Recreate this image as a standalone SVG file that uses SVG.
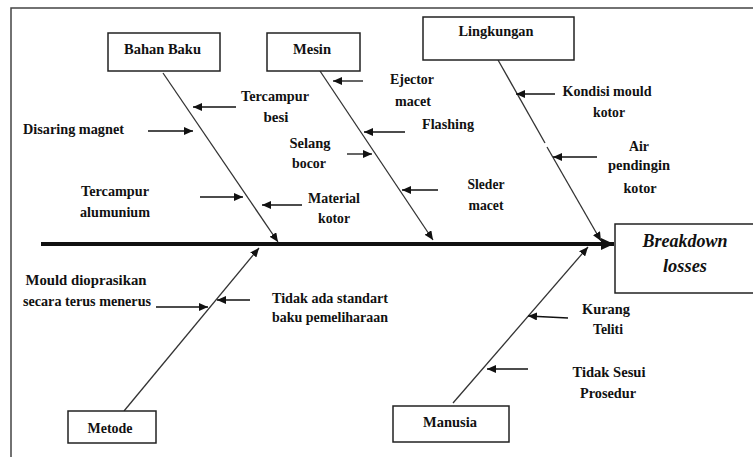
<svg xmlns="http://www.w3.org/2000/svg" width="753" height="457" viewBox="0 0 753 457">
<defs>
<style>
.t{font-family:"Liberation Serif","Times New Roman",serif;font-weight:bold;font-size:15.5px;fill:#111;text-anchor:middle}
.bi{font-family:"Liberation Serif","Times New Roman",serif;font-weight:bold;font-style:italic;font-size:18px;fill:#111;text-anchor:middle}
.box{fill:#fff;stroke:#222;stroke-width:1.5}
.bone{stroke:#333;stroke-width:1.3;fill:none}
.sub{stroke:#111;stroke-width:1.3;fill:none;marker-end:url(#ah)}
</style>
<marker id="ah" markerUnits="userSpaceOnUse" markerWidth="10" markerHeight="8" refX="9" refY="4" orient="auto">
<path d="M0,0 L9,4 L0,8 z" fill="#111"/>
</marker>
<marker id="big" markerUnits="userSpaceOnUse" markerWidth="14" markerHeight="12" refX="13" refY="6" orient="auto">
<path d="M0,0 L13,6 L0,12 z" fill="#111"/>
</marker>
</defs>
<rect x="11" y="8" width="780" height="480" fill="#fff" stroke="#444" stroke-width="1.5"/>
<g id="connectors">
<line x1="41" y1="244" x2="614" y2="244" stroke="#111" stroke-width="4" marker-end="url(#big)"/>
<line class="bone" x1="163" y1="73" x2="278" y2="242" marker-end="url(#ah)"/>
<line class="bone" x1="320" y1="71" x2="433" y2="240" marker-end="url(#ah)"/>
<line class="bone" x1="498" y1="60" x2="545" y2="143"/>
<line class="bone" x1="547" y1="147" x2="601" y2="241" marker-end="url(#ah)"/>
<line class="bone" x1="124" y1="411" x2="259" y2="248" marker-end="url(#ah)"/>
<line class="bone" x1="453" y1="403" x2="588" y2="247" marker-end="url(#ah)"/>
<line class="sub" x1="236" y1="107" x2="193" y2="107"/>
<line class="sub" x1="148" y1="131" x2="193" y2="131"/>
<line class="sub" x1="200" y1="197" x2="243" y2="197"/>
<line class="sub" x1="302" y1="205" x2="262" y2="205"/>
<line class="sub" x1="363" y1="81" x2="333" y2="81"/>
<line class="sub" x1="405" y1="132" x2="364" y2="132"/>
<line class="sub" x1="347" y1="154" x2="372" y2="154"/>
<line class="sub" x1="438" y1="190" x2="402" y2="190"/>
<line class="sub" x1="555" y1="94" x2="516" y2="94"/>
<line class="sub" x1="597" y1="157" x2="553" y2="157"/>
<line class="sub" x1="156" y1="307" x2="208" y2="307"/>
<line class="sub" x1="250" y1="300" x2="217" y2="300"/>
<line class="sub" x1="568" y1="318" x2="528" y2="316"/>
<line class="sub" x1="528" y1="369" x2="487" y2="369"/>
</g>
<g id="bahan-baku"><rect class="box" x="108" y="33" width="112" height="38"/><text class="t" x="162.5" y="54" textLength="77" lengthAdjust="spacingAndGlyphs">Bahan Baku</text></g>
<g id="mesin"><rect class="box" x="267" y="33" width="93" height="38"/><text class="t" x="312" y="54" textLength="38" lengthAdjust="spacingAndGlyphs">Mesin</text></g>
<g id="lingkungan"><rect class="box" x="423" y="17" width="151" height="43"/><text class="t" x="496" y="36" textLength="75" lengthAdjust="spacingAndGlyphs">Lingkungan</text></g>
<g id="breakdown"><rect class="box" x="615" y="224" width="160" height="69"/><text class="bi" x="685" y="247" textLength="85" lengthAdjust="spacingAndGlyphs">Breakdown</text><text class="bi" x="685" y="272" textLength="44" lengthAdjust="spacingAndGlyphs">losses</text></g>
<g id="metode"><rect class="box" x="68" y="411" width="88" height="32"/><text class="t" x="110" y="433" textLength="45" lengthAdjust="spacingAndGlyphs">Metode</text></g>
<g id="manusia"><rect class="box" x="393" y="406" width="116" height="36"/><text class="t" x="450" y="427" textLength="54" lengthAdjust="spacingAndGlyphs">Manusia</text></g>
<g id="labels">
<text class="t" x="275" y="101" textLength="68" lengthAdjust="spacingAndGlyphs">Tercampur</text>
<text class="t" x="276" y="122" textLength="25" lengthAdjust="spacingAndGlyphs">besi</text>
<text class="t" x="73.5" y="134" textLength="101" lengthAdjust="spacingAndGlyphs">Disaring magnet</text>
<text class="t" x="115" y="196" textLength="68" lengthAdjust="spacingAndGlyphs">Tercampur</text>
<text class="t" x="115" y="217" textLength="70" lengthAdjust="spacingAndGlyphs">alumunium</text>
<text class="t" x="334" y="203" textLength="52" lengthAdjust="spacingAndGlyphs">Material</text>
<text class="t" x="334" y="223" textLength="32" lengthAdjust="spacingAndGlyphs">kotor</text>
<text class="t" x="310" y="148" textLength="41" lengthAdjust="spacingAndGlyphs">Selang</text>
<text class="t" x="309" y="168" textLength="34" lengthAdjust="spacingAndGlyphs">bocor</text>
<text class="t" x="412" y="84" textLength="44" lengthAdjust="spacingAndGlyphs">Ejector</text>
<text class="t" x="413" y="106" textLength="36" lengthAdjust="spacingAndGlyphs">macet</text>
<text class="t" x="448" y="129" textLength="52" lengthAdjust="spacingAndGlyphs">Flashing</text>
<text class="t" x="486" y="189" textLength="37" lengthAdjust="spacingAndGlyphs">Sleder</text>
<text class="t" x="486" y="210" textLength="35" lengthAdjust="spacingAndGlyphs">macet</text>
<text class="t" x="607" y="96" textLength="89" lengthAdjust="spacingAndGlyphs">Kondisi mould</text>
<text class="t" x="609" y="117" textLength="32" lengthAdjust="spacingAndGlyphs">kotor</text>
<text class="t" x="639" y="151" textLength="20" lengthAdjust="spacingAndGlyphs">Air</text>
<text class="t" x="639" y="170" textLength="62" lengthAdjust="spacingAndGlyphs">pendingin</text>
<text class="t" x="640" y="193" textLength="33" lengthAdjust="spacingAndGlyphs">kotor</text>
<text class="t" x="86" y="285" textLength="121" lengthAdjust="spacingAndGlyphs">Mould  dioprasikan</text>
<text class="t" x="87" y="306" textLength="128" lengthAdjust="spacingAndGlyphs">secara terus menerus</text>
<text class="t" x="330" y="303" textLength="116" lengthAdjust="spacingAndGlyphs">Tidak ada standart</text>
<text class="t" x="330" y="322" textLength="116" lengthAdjust="spacingAndGlyphs">baku pemeliharaan</text>
<text class="t" x="606" y="314" textLength="48" lengthAdjust="spacingAndGlyphs">Kurang</text>
<text class="t" x="608" y="334" textLength="30" lengthAdjust="spacingAndGlyphs">Teliti</text>
<text class="t" x="609" y="377" textLength="73" lengthAdjust="spacingAndGlyphs">Tidak Sesui</text>
<text class="t" x="608" y="398" textLength="56" lengthAdjust="spacingAndGlyphs">Prosedur</text>
</g>
</svg>
